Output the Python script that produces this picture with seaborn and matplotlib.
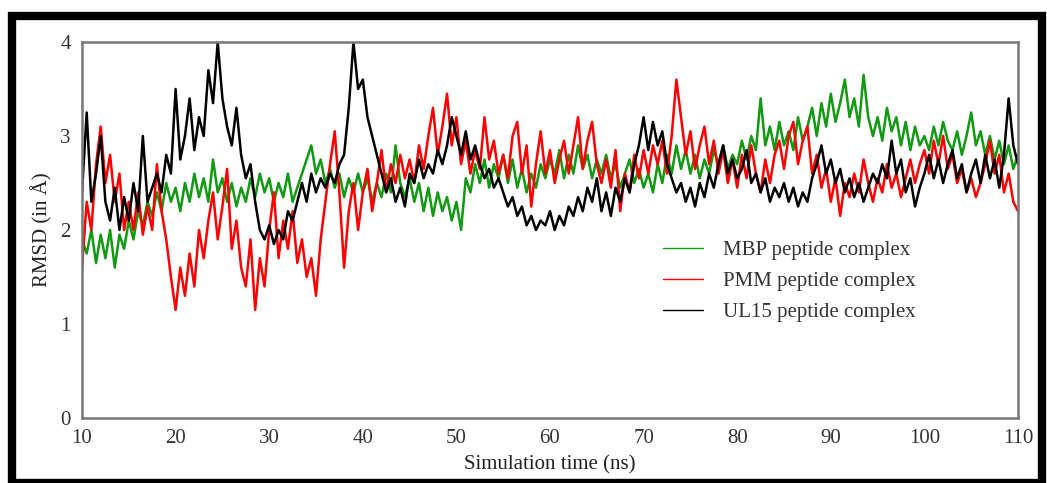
import numpy as np
import pandas as pd
import matplotlib
matplotlib.use("Agg")
import matplotlib.pyplot as plt
import seaborn as sns
from matplotlib.patches import Rectangle
from matplotlib.ticker import MultipleLocator

# time axis: 10..110 ns sampled every 0.5 ns
time_ns = np.arange(10.0, 110.01, 0.5)

mbp = [
    1.9, 1.75, 2.0, 1.65, 1.95, 1.7, 2.0, 1.6, 1.95, 1.8,
    2.1, 1.9, 2.2, 2.05, 2.3, 2.15, 2.4, 2.2, 2.5, 2.3,
    2.45, 2.2, 2.5, 2.3, 2.6, 2.35, 2.55, 2.3, 2.75, 2.4,
    2.55, 2.3, 2.5, 2.25, 2.45, 2.3, 2.55, 2.35, 2.6, 2.4,
    2.55, 2.3, 2.5, 2.35, 2.6, 2.3, 2.45, 2.6, 2.75, 2.9,
    2.6, 2.75, 2.5, 2.65, 2.45, 2.6, 2.35, 2.55, 2.4, 2.6,
    2.4, 2.55, 2.3, 2.5, 2.35, 2.6, 2.4, 2.9, 2.5, 2.35,
    2.55, 2.3, 2.5, 2.2, 2.45, 2.15, 2.4, 2.2, 2.35, 2.1,
    2.3, 2.0, 2.55, 2.4, 2.7, 2.5, 2.75, 2.45, 2.7, 2.55,
    2.8, 2.5, 2.75, 2.45, 2.65, 2.4, 2.6, 2.45, 2.7, 2.55,
    2.75, 2.6, 2.85, 2.55, 2.8, 2.6, 2.9, 2.65, 2.8, 2.55,
    2.75, 2.6, 2.8, 2.55, 2.7, 2.45, 2.6, 2.75, 2.5, 2.65,
    2.45, 2.6, 2.4, 2.7, 2.5, 2.8, 2.6, 2.9, 2.65, 2.85,
    2.6, 2.8, 2.55, 2.75, 2.6, 2.85, 2.7, 2.9, 2.65, 2.8,
    2.7, 2.95, 2.75, 3.0, 2.85, 3.4, 2.9, 3.1, 2.85, 3.15,
    2.9, 3.05, 2.85, 3.2, 2.95, 3.1, 3.3, 3.0, 3.35, 3.1,
    3.45, 3.15, 3.35, 3.6, 3.2, 3.4, 3.1, 3.65, 3.2, 3.0,
    3.2, 2.95, 3.3, 3.05, 3.2, 2.9, 3.15, 2.85, 3.1, 2.9,
    3.0, 2.85, 3.1, 2.9, 3.15, 2.95, 2.85, 3.05, 2.8, 3.0,
    3.25, 2.9, 3.05, 2.8, 3.0, 2.75, 2.95, 2.7, 2.9, 2.65,
    2.8,
]

pmm = [
    1.6, 2.3, 2.0, 2.7, 3.1, 2.5, 2.8, 2.3, 2.6, 2.0,
    2.3, 2.0, 2.4, 1.95, 2.25, 2.0, 2.7, 2.2, 1.9, 1.5,
    1.15, 1.6, 1.3, 1.75, 1.4, 2.0, 1.7, 2.1, 2.4, 1.9,
    2.25, 2.65, 1.8, 2.1, 1.6, 1.4, 1.9, 1.15, 1.7, 1.4,
    2.0, 2.4, 1.7, 2.1, 1.8, 2.2, 1.65, 1.9, 1.5, 1.7,
    1.3, 1.9, 2.3, 2.7, 3.05, 2.4, 1.6, 2.2, 2.5, 2.0,
    2.4, 2.65, 2.2, 2.5, 2.85, 2.4, 2.7, 2.5, 2.8, 2.55,
    2.75, 2.5, 2.9, 2.65, 3.0, 3.3, 2.8, 3.1, 3.45, 2.9,
    3.2, 2.7, 2.95, 2.6, 2.85, 2.65, 3.2, 2.75, 2.95, 2.6,
    2.8, 2.55, 3.0, 3.15, 2.6, 2.9, 2.25, 2.7, 3.05, 2.6,
    2.85, 2.5, 2.75, 2.95, 2.6, 2.9, 3.2, 2.65, 2.95, 3.15,
    2.7, 2.5, 2.75, 2.45, 2.85, 2.2, 2.6, 2.4, 2.8, 2.55,
    2.85, 2.6, 2.9, 2.7, 2.95, 2.6, 3.0, 3.6, 3.2, 2.8,
    3.05, 2.65, 2.9, 3.1, 2.7, 2.95, 2.6, 2.85, 2.5, 2.75,
    2.45, 2.8, 2.55, 2.9, 2.6, 2.4, 2.75, 2.5, 2.8, 2.95,
    2.65, 3.0, 3.15, 2.7, 2.95, 3.1, 2.6, 2.8, 2.45, 2.65,
    2.3, 2.55, 2.15, 2.5, 2.35, 2.6, 2.4, 2.75, 2.5, 2.3,
    2.55, 2.4, 2.7, 2.45, 2.6, 2.35, 2.55, 2.75, 2.5, 2.7,
    2.85, 2.6, 2.95, 2.7, 3.0, 2.65, 2.8, 2.5, 2.65, 2.4,
    2.55, 2.35, 2.5, 2.7, 2.95, 2.6, 2.8, 2.4, 2.6, 2.3,
    2.2,
]

ul15 = [
    2.4, 3.25, 2.3, 2.6, 3.0, 2.3, 2.1, 2.45, 2.0, 2.35,
    2.1, 2.5, 2.2, 3.0, 2.3, 2.45, 2.6, 2.4, 2.8, 2.6,
    3.5, 2.75, 3.0, 3.4, 2.85, 3.2, 3.0, 3.7, 3.35, 4.0,
    3.4, 3.1, 2.9, 3.3, 2.8, 2.55, 2.7, 2.3, 2.0, 1.9,
    2.05, 1.85, 2.0, 1.9, 2.2, 2.1, 2.3, 2.5, 2.3, 2.6,
    2.4, 2.55, 2.45, 2.6, 2.5, 2.7, 2.8, 3.3, 4.0, 3.5,
    3.6, 3.2, 3.0, 2.8, 2.6, 2.4, 2.55, 2.3, 2.45, 2.25,
    2.6, 2.5, 2.75, 2.55, 2.7, 2.6, 2.85, 2.7, 2.9, 3.2,
    3.0, 2.8, 3.05, 2.75, 2.9, 2.7, 2.55, 2.65, 2.45, 2.55,
    2.4, 2.25, 2.35, 2.15, 2.25, 2.05, 2.15, 2.0, 2.1, 2.05,
    2.2, 2.0, 2.15, 2.05, 2.25, 2.15, 2.35, 2.2, 2.45, 2.3,
    2.55, 2.2, 2.4, 2.15, 2.45, 2.3, 2.55, 2.4, 2.7, 2.9,
    3.2, 2.85, 3.15, 2.9, 3.05, 2.7, 2.55, 2.4, 2.5, 2.3,
    2.45, 2.25, 2.5, 2.35, 2.6, 2.45, 2.7, 2.9, 2.6, 2.75,
    2.55, 2.65, 2.85, 2.5, 2.6, 2.4, 2.55, 2.3, 2.45, 2.35,
    2.5, 2.3, 2.45, 2.25, 2.4, 2.3, 2.55, 2.7, 2.9, 2.6,
    2.75, 2.5, 2.65, 2.4, 2.55, 2.35, 2.5, 2.3, 2.45, 2.6,
    2.5, 2.7, 2.55, 2.95, 2.6, 2.75, 2.4, 2.55, 2.25, 2.45,
    2.6, 2.8, 2.55, 2.75, 2.5, 2.7, 2.85, 2.55, 2.7, 2.4,
    2.6, 2.75, 2.5, 2.8, 2.55, 2.75, 2.45, 2.8, 3.4, 2.9,
    2.7,
]

labels = ["MBP peptide complex", "PMM peptide complex", "UL15 peptide complex"]
colors = ["#119911", "#ff0000", "#000000"]

df = pd.DataFrame({"time": time_ns, labels[0]: mbp, labels[1]: pmm, labels[2]: ul15})
long_df = df.melt(id_vars="time", var_name="complex", value_name="rmsd")

sns.set_style("white")
plt.rcParams["font.family"] = ["Liberation Serif", "DejaVu Serif"]

fig = plt.figure(figsize=(10.47, 4.83), dpi=100)
ax = fig.add_axes([82 / 1047, 65 / 483, 936 / 1047, 376 / 483])

sns.lineplot(data=long_df, x="time", y="rmsd", hue="complex", hue_order=labels,
             palette=colors, linewidth=1.8, ax=ax, legend=False)

ax.set_xlim(10, 110)
ax.set_ylim(0, 4)
ax.xaxis.set_major_locator(MultipleLocator(10))
ax.xaxis.set_minor_locator(MultipleLocator(5))
ax.yaxis.set_major_locator(MultipleLocator(1))
ax.yaxis.set_minor_locator(MultipleLocator(0.5))
ax.tick_params(which="both", direction="in", colors="#555555", labelcolor="#333333",
               top=False, right=False, labelsize=15, width=1.5)
ax.tick_params(which="major", length=11, pad=8)
ax.tick_params(which="minor", length=5)
for sp in ax.spines.values():
    sp.set_color("#777777")
    sp.set_linewidth(1.8)

ax.set_xlabel("Simulation time (ns)", fontsize=15, color="#222222", labelpad=5)
ax.set_ylabel("RMSD (in Å)", fontsize=15, color="#222222", labelpad=6)

handles = [plt.Line2D([], [], color=c, linewidth=1.0) for c in colors]
ax.legend(handles, labels, loc="upper left", bbox_to_anchor=(0.612, 0.495),
          frameon=False, fontsize=15, handlelength=1.9, handletextpad=0.95,
          labelspacing=0.55, borderaxespad=0, labelcolor="#333333")

# thick black frame around the whole picture
fig.patches.append(Rectangle((12 / 1047, 0.0 / 483), 1030 / 1047, 467 / 483,
                             transform=fig.transFigure, fill=False,
                             edgecolor="black", linewidth=6))

fig.savefig("out.png", dpi=100)
